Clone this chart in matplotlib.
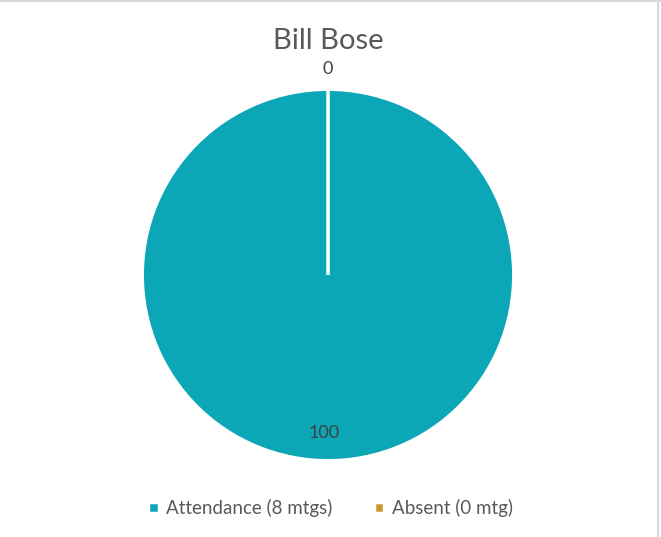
import numpy as np
import matplotlib.pyplot as plt
from matplotlib.lines import Line2D

# attendance share for the member
title = "Bill Bose"
categories = ["Attendance (8 mtgs)", "Absent (0 mtg)"]
values = [100, 0]
colors = ["#0BA7B7", "#CF9628"]

plt.rcParams['font.family'] = ['Lato', 'DejaVu Sans']

fig = plt.figure(figsize=(6.61, 5.37), dpi=100)
ax = fig.add_axes([0.2194, 0.1471, 0.5537, 0.6816])

wedges, autotexts = ax.pie(values, colors=colors, startangle=90, counterclock=False,
                           wedgeprops=dict(edgecolor="white", linewidth=2.5))[:2]
ax.set_xlim(-0.985, 0.985)
ax.set_ylim(-0.985, 0.985)
ax.set_aspect("equal")

# data labels: inside for the big slice, just outside for the empty one
for w, v in zip(wedges, values):
    ang = np.deg2rad((w.theta1 + w.theta2) / 2)
    d = 0.85 if v > 0 else 1.11
    ax.text(d * np.cos(ang) - (0.02 if v > 0 else 0), d * np.sin(ang), str(v),
            ha="center", va="center", fontsize=13, color="#404040")

fig.text(0.496, 1 - 41 / 537, title, ha="center", va="center", fontsize=21, color="#595959")

fig.legend(wedges, categories, loc="center", bbox_to_anchor=(0.5, 1 - 508 / 537), ncol=2,
           frameon=False, fontsize=13.5, labelcolor="#595959", handlelength=0.55,
           handleheight=0.55, handletextpad=0.4, columnspacing=2.2)

# faint chart frame on top and right
fig.add_artist(Line2D([0, 1], [0.998, 0.998], color="#D9D9D9", lw=1.5, transform=fig.transFigure))
fig.add_artist(Line2D([0.9955, 0.9955], [0, 1], color="#D9D9D9", lw=1.5, transform=fig.transFigure))

fig.savefig("out.png", dpi=100)
